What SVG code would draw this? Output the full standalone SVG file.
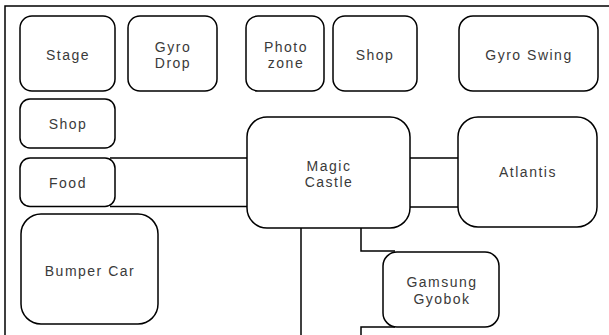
<svg xmlns="http://www.w3.org/2000/svg" width="609" height="335" viewBox="0 0 609 335">
<style>
.n{fill:#fff;stroke:#000;stroke-width:1.5}
.c{fill:none;stroke:#000;stroke-width:1.5}
text{font-family:"Liberation Sans",Arial,sans-serif;font-size:14px;fill:#3a3a3a;text-anchor:middle;letter-spacing:1.5px}
</style>
<rect width="609" height="335" fill="#fff"/>
<g id="connectors">
<path class="c" d="M5,335 V6 H609"/>
<path class="c" d="M110,158 H247 M110,206.5 H247"/>
<path class="c" d="M410,158 H458 M410,207 H458"/>
<path class="c" d="M301,228 V335"/>
<path class="c" d="M361,228 V251 H395 M361,335 V327 H395"/>
</g>
<g id="stage"><rect class="n" x="20" y="16" width="95" height="75" rx="12"/><text x="68" y="60">Stage</text></g>
<g id="gyro-drop"><rect class="n" x="128" y="16" width="89" height="75" rx="12"/><text x="173" y="52">Gyro</text><text x="173" y="68">Drop</text></g>
<g id="photo-zone"><rect class="n" x="246" y="16" width="78" height="75" rx="12"/><text x="286" y="52">Photo</text><text x="286" y="68">zone</text></g>
<g id="shop-top"><rect class="n" x="333" y="16" width="84" height="75" rx="12"/><text x="375" y="60">Shop</text></g>
<g id="gyro-swing"><rect class="n" x="459" y="16" width="139" height="75" rx="14"/><text x="529" y="60">Gyro Swing</text></g>
<g id="shop-left"><rect class="n" x="20" y="99" width="95" height="49" rx="10"/><text x="68" y="129">Shop</text></g>
<g id="food"><rect class="n" x="20" y="158" width="95" height="48.5" rx="10"/><text x="68" y="188">Food</text></g>
<g id="magic-castle"><rect class="n" x="247" y="117" width="163" height="111" rx="20"/><text x="329" y="171">Magic</text><text x="329" y="187">Castle</text></g>
<g id="atlantis"><rect class="n" x="458" y="117" width="139" height="110" rx="20"/><text x="528" y="177">Atlantis</text></g>
<g id="bumper-car"><rect class="n" x="21" y="214" width="137" height="110" rx="20"/><text x="90" y="276">Bumper Car</text></g>
<g id="gamsung-gyobok"><rect class="n" x="383" y="252" width="116" height="75" rx="14"/><text x="442" y="287">Gamsung</text><text x="442" y="304">Gyobok</text></g>
</svg>
